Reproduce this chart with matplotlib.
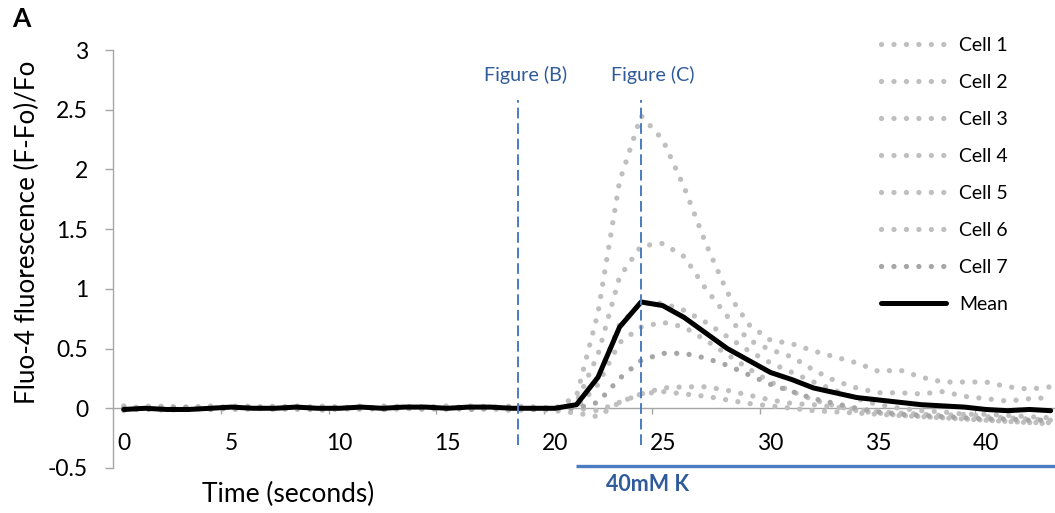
import matplotlib
matplotlib.use("Agg")
import matplotlib.pyplot as plt
from matplotlib.ticker import FixedLocator, FixedFormatter

plt.rcParams['font.family'] = ['Lato', 'DejaVu Sans']

# ---------------- data ----------------
time_s = list(range(0, 44))

cell1 = [0.01, -0.01, 0.02, 0.0, -0.01, 0.01, 0.02, 0.0, -0.01, 0.01, 0.0,
         0.02, -0.01, 0.0, 0.01, 0.02, 0.0, -0.01, 0.01, 0.0, 0.0,
         0.10, 0.80, 1.90, 2.45, 2.25, 1.85, 1.38, 0.97, 0.70, 0.57,
         0.54, 0.48, 0.43, 0.38, 0.31, 0.32, 0.26, 0.22, 0.22, 0.22,
         0.18, 0.16, 0.18]
cell2 = [-0.01, 0.02, 0.0, 0.01, 0.02, -0.01, 0.0, 0.01, 0.02, 0.0, 0.01,
         -0.01, 0.02, 0.01, 0.0, -0.01, 0.02, 0.01, 0.0, 0.01, -0.01,
         0.05, 0.45, 1.10, 1.36, 1.38, 1.27, 1.00, 0.77, 0.57, 0.49,
         0.43, 0.32, 0.23, 0.17, 0.13, 0.13, 0.12, 0.14, 0.10, 0.08,
         0.06, 0.08, 0.09]
cell3 = [0.02, 0.0, -0.01, 0.01, 0.0, 0.02, 0.01, -0.01, 0.0, 0.02, 0.01,
         0.0, 0.01, 0.02, 0.0, 0.01, -0.01, 0.0, 0.02, 0.01, 0.0,
         0.00, 0.25, 0.70, 0.88, 0.88, 0.82, 0.72, 0.60, 0.48, 0.38,
         0.30, 0.22, 0.15, 0.08, 0.03, 0.00, -0.02, -0.03, -0.05, -0.05,
         -0.06, -0.07, -0.08]
cell4 = [0.0, 0.01, 0.02, -0.01, 0.01, 0.0, -0.01, 0.02, 0.01, 0.0, -0.01,
         0.01, 0.0, -0.01, 0.02, 0.0, 0.01, 0.02, -0.01, 0.0, 0.01,
         0.00, 0.20, 0.55, 0.68, 0.72, 0.68, 0.57, 0.45, 0.33, 0.22,
         0.14, 0.07, 0.02, -0.02, -0.04, -0.06, -0.07, -0.08, -0.09, -0.10,
         -0.11, -0.12, -0.13]
cell5 = [0.01, 0.0, -0.02, 0.0, 0.01, -0.01, 0.0, 0.0, 0.01, -0.02, 0.0,
         0.01, -0.01, 0.0, -0.01, 0.01, 0.0, 0.0, -0.02, -0.01, -0.02,
         -0.04, -0.07, 0.05, 0.12, 0.14, 0.12, 0.10, 0.07, 0.04, 0.02,
         0.00, -0.02, -0.03, -0.04, -0.05, -0.06, -0.07, -0.08, -0.09, -0.10,
         -0.11, -0.12, -0.12]
cell6 = [-0.02, 0.0, 0.01, -0.01, 0.0, 0.01, 0.0, -0.01, 0.0, 0.01, -0.01,
         0.0, 0.0, 0.01, -0.01, 0.0, 0.01, -0.01, 0.0, -0.01, 0.0,
         0.00, -0.02, 0.05, 0.12, 0.17, 0.18, 0.18, 0.15, 0.11, 0.07,
         0.04, 0.03, 0.01, -0.01, -0.03, -0.04, -0.05, -0.06, -0.05, -0.07,
         -0.08, -0.09, -0.10]
cell7 = [0.0, -0.01, 0.0, 0.01, -0.01, 0.0, 0.01, 0.0, 0.0, -0.01, 0.01,
         0.0, -0.01, 0.01, 0.0, 0.0, -0.01, 0.0, 0.01, -0.01, 0.0,
         0.00, 0.05, 0.25, 0.40, 0.46, 0.46, 0.42, 0.36, 0.28, 0.20,
         0.14, 0.08, 0.04, 0.00, -0.03, -0.05, -0.06, -0.07, -0.08, -0.09,
         -0.09, -0.10, -0.10]
mean = [-0.01, 0.0, -0.01, -0.01, 0.0, 0.01, 0.0, 0.0, 0.01, 0.0, 0.0,
        0.01, 0.0, 0.01, 0.01, 0.0, 0.01, 0.01, 0.0, 0.0, 0.0,
        0.03, 0.26, 0.68, 0.89, 0.86, 0.76, 0.63, 0.50, 0.40, 0.30,
        0.24, 0.17, 0.13, 0.09, 0.07, 0.05, 0.03, 0.02, 0.01, -0.01,
        -0.02, -0.01, -0.02]

cells = [cell1, cell2, cell3, cell4, cell5, cell6, cell7]
cell_names = ["Cell 1", "Cell 2", "Cell 3", "Cell 4", "Cell 5", "Cell 6", "Cell 7"]
cell_colors = ["#BFBFBF"] * 6 + ["#A6A6A6"]

y_ticks = [-0.5, 0, 0.5, 1, 1.5, 2, 2.5, 3]
y_tick_labels = ["-0.5", "0", "0.5", "1", "1.5", "2", "2.5", "3"]
x_ticks = [0, 5, 10, 15, 20, 25, 30, 35, 40]
x_tick_labels = ["0", "5", "10", "15", "20", "25", "30", "35", "40"]

marker_b = 18.3
marker_c = 24.0
stim_start = 21.0

# ---------------- figure ----------------
W, H = 1055, 513
fig = plt.figure(figsize=(W / 100, H / 100), dpi=100)
ax = fig.add_axes([113 / W, 45 / H, (W - 113) / W, 418 / H])
ax.set_xlim(-0.5, 43.2)
ax.set_ylim(-0.5, 3)

axis_gray = "#A6A6A6"
for s in ["top", "right"]:
    ax.spines[s].set_visible(False)
ax.spines["bottom"].set_position(("data", 0))
ax.spines["left"].set_color(axis_gray)
ax.spines["bottom"].set_color(axis_gray)
ax.spines["left"].set_linewidth(1.0)
ax.spines["bottom"].set_linewidth(1.0)

ax.yaxis.set_major_locator(FixedLocator(y_ticks))
ax.yaxis.set_major_formatter(FixedFormatter(y_tick_labels))
ax.tick_params(axis="y", direction="out", length=6, width=1.0, color=axis_gray,
               labelsize=16.5, pad=12, labelcolor="#000000")

ax.xaxis.set_major_locator(FixedLocator(x_ticks))
ax.xaxis.set_major_formatter(FixedFormatter(x_tick_labels))
ax.xaxis.set_minor_locator(FixedLocator([t + 4.5 for t in x_ticks]))
ax.tick_params(axis="x", which="major", length=0, labelsize=16.5, pad=18)
ax.tick_params(axis="x", which="minor", direction="out", length=4, width=1.0,
               color=axis_gray)

# cell traces (round-dot lines)
for vals, name, col in zip(cells, cell_names, cell_colors):
    ax.plot(time_s, vals, color=col, lw=3.8, linestyle=(0, (0.01, 2.35)),
            dash_capstyle="round", label=name, zorder=3)

ax.plot(time_s, mean, color="black", lw=3.6, solid_capstyle="round",
        solid_joinstyle="round", label="Mean", zorder=5)

# vertical markers
blue = "#4A7CC0"
text_blue = "#2F5B9A"
for xm in [marker_b, marker_c]:
    ax.plot([xm, xm], [-0.307, 2.58], color=blue, lw=1.4,
            linestyle=(0, (5.5, 2.5)), zorder=6, clip_on=False)
ax.text(marker_b + 0.36, 2.79, "Figure (B)", ha="center", va="center",
        fontsize=14.2, color=text_blue)
ax.text(marker_c + 0.55, 2.79, "Figure (C)", ha="center", va="center",
        fontsize=14.2, color=text_blue)

# stimulus bar
ax.plot([stim_start, 43.2], [-0.483, -0.483], color=blue, lw=2.4,
        solid_capstyle="butt", clip_on=False, zorder=6)
ax.text(stim_start + 3.3, -0.64, "40mM K", ha="center", va="center",
        fontsize=15.5, fontweight="bold", color=text_blue, clip_on=False)

# legend
leg = ax.legend(loc="upper left", bbox_to_anchor=(881 / W, 1 - 37 / H),
                bbox_transform=fig.transFigure, frameon=False, fontsize=14,
                handlelength=3.35, handletextpad=0.65, labelspacing=1.03,
                borderpad=0, borderaxespad=0)

# axis titles
fig.text(288 / W, 1 - 494 / H, "Time (seconds)", ha="center", va="center",
         fontsize=19)
fig.text(27 / W, 1 - 232 / H, "Fluo-4 fluorescence (F-Fo)/Fo", ha="center",
         va="center", rotation=90, fontsize=18.7)
fig.text(21 / W, 1 - 19 / H, "A", ha="center", va="center", fontsize=19,
         fontweight="bold")

fig.savefig("out.png", dpi=100)
